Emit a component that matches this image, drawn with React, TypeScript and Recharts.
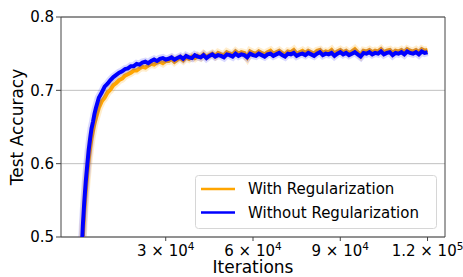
import React from 'react';
import { ComposedChart, Line, XAxis, YAxis, CartesianGrid, Legend, ReferenceArea, Label } from 'recharts';

const iterations = [
  1000, 1500, 2000, 2500, 3000, 3500, 4000, 4500, 5000, 5500, 6000,
  7000, 8000, 9000, 10000, 11000, 12000, 13000, 14000, 15000, 16000, 17000, 18000, 19000, 20000,
  21000, 22000, 23000, 24000, 25000, 26000, 27000, 28000, 29000, 30000,
  31000, 32000, 33000, 34000, 35000, 36000, 37000, 38000, 39000, 40000,
  41000, 42000, 43000, 44000, 45000, 46000, 47000, 48000, 49000, 50000,
  51000, 52000, 53000, 54000, 55000, 56000, 57000, 58000, 59000, 60000,
  61000, 62000, 63000, 64000, 65000, 66000, 67000, 68000, 69000, 70000,
  71000, 72000, 73000, 74000, 75000, 76000, 77000, 78000, 79000, 80000,
  81000, 82000, 83000, 84000, 85000, 86000, 87000, 88000, 89000, 90000,
  91000, 92000, 93000, 94000, 95000, 96000, 97000, 98000, 99000, 100000,
  101000, 102000, 103000, 104000, 105000, 106000, 107000, 108000, 109000, 110000,
  111000, 112000, 113000, 114000, 115000, 116000, 117000, 118000, 119000, 120000,
];

const withRegularization = [
  0.455, 0.500, 0.535, 0.562, 0.585, 0.605, 0.621, 0.635, 0.645, 0.655, 0.662,
  0.676, 0.685, 0.690, 0.697, 0.701, 0.707, 0.710, 0.714, 0.716, 0.720, 0.722, 0.724, 0.727, 0.727,
  0.730, 0.732, 0.731, 0.734, 0.736, 0.735, 0.738, 0.739, 0.737, 0.740,
  0.740, 0.743, 0.739, 0.742, 0.744, 0.741, 0.745, 0.743, 0.746, 0.744,
  0.747, 0.745, 0.749, 0.746, 0.748, 0.750, 0.747, 0.751, 0.749, 0.748,
  0.752, 0.750, 0.749, 0.753, 0.750, 0.752, 0.751, 0.745, 0.753, 0.751,
  0.750, 0.753, 0.751, 0.749, 0.752, 0.754, 0.750, 0.752, 0.754, 0.751,
  0.749, 0.753, 0.752, 0.755, 0.750, 0.752, 0.754, 0.751, 0.754, 0.752,
  0.750, 0.754, 0.755, 0.751, 0.753, 0.752, 0.755, 0.750, 0.753, 0.755,
  0.752, 0.754, 0.751, 0.753, 0.756, 0.752, 0.748, 0.754, 0.753, 0.755,
  0.752, 0.754, 0.753, 0.756, 0.752, 0.754, 0.755, 0.751, 0.754, 0.753,
  0.755, 0.752, 0.756, 0.754, 0.753, 0.755, 0.752, 0.756, 0.754, 0.755,
];

const withoutRegularization = [
  0.470, 0.515, 0.548, 0.575, 0.597, 0.618, 0.634, 0.648, 0.657, 0.668, 0.676,
  0.690, 0.697, 0.705, 0.709, 0.714, 0.718, 0.721, 0.724, 0.726, 0.729, 0.730, 0.733, 0.733, 0.736,
  0.735, 0.738, 0.739, 0.737, 0.740, 0.742, 0.740, 0.743, 0.744, 0.742,
  0.743, 0.745, 0.742, 0.744, 0.746, 0.743, 0.747, 0.745, 0.744, 0.748,
  0.746, 0.745, 0.748, 0.744, 0.747, 0.749, 0.746, 0.748, 0.747, 0.745,
  0.749, 0.748, 0.746, 0.750, 0.747, 0.749, 0.748, 0.745, 0.750, 0.748,
  0.747, 0.750, 0.748, 0.746, 0.749, 0.750, 0.747, 0.749, 0.751, 0.748,
  0.746, 0.750, 0.749, 0.751, 0.747, 0.749, 0.750, 0.748, 0.751, 0.749,
  0.747, 0.750, 0.752, 0.748, 0.750, 0.749, 0.751, 0.747, 0.750, 0.752,
  0.749, 0.751, 0.748, 0.750, 0.752, 0.749, 0.746, 0.751, 0.750, 0.752,
  0.749, 0.751, 0.750, 0.753, 0.749, 0.751, 0.752, 0.748, 0.751, 0.750,
  0.752, 0.749, 0.753, 0.751, 0.750, 0.752, 0.749, 0.753, 0.751, 0.752,
];

const xTicks = [30000, 60000, 90000, 120000];
const xTickMantissa = ['3', '6', '9', '1.2'];
const xTickExponent = ['4', '4', '4', '5'];
const yTicks = [0.5, 0.6, 0.7, 0.8];

const data = iterations.map((it, i) => ({
  it,
  withReg: withRegularization[i],
  withoutReg: withoutRegularization[i],
}));

const FONT = '"DejaVu Sans", sans-serif';

const XTick = (props: any) => {
  const { x, y, payload } = props;
  const idx = xTicks.indexOf(payload.value);
  return (
    <text x={x} y={y + 13} textAnchor="middle" fontFamily={FONT} fontSize={15} fill="#000">
      <tspan>{xTickMantissa[idx]} × 10</tspan>
      <tspan dy={-6} fontSize={10.5}>{xTickExponent[idx]}</tspan>
    </text>
  );
};

const LegendContent = (props: any) => {
  const payload = (props.payload || []).filter((p: any) => p.value && !String(p.value).startsWith('band'));
  return (
    <svg width={242} height={54} style={{ display: 'block' }}>
      <rect x={0.5} y={0.5} width={241} height={53} rx={3} fill="#fff" fillOpacity={0.8} stroke="#d6d6d6" />
      {payload.map((p: any, i: number) => (
        <g key={i}>
          <line x1={6} x2={40} y1={14 + i * 23.5} y2={14 + i * 23.5} stroke={p.color} strokeWidth={2.5} />
          <text x={53} y={14 + i * 23.5} dominantBaseline="central" fontFamily={FONT} fontSize={15} fill="#000">
            {p.value}
          </text>
        </g>
      ))}
    </svg>
  );
};

export default function App() {
  return (
    <div style={{ position: 'absolute', left: 0, top: 0 }}>
      <ComposedChart width={463} height={277} data={data} margin={{ top: 17, right: 18, left: 0, bottom: 0 }}>
        <CartesianGrid horizontal vertical={false} stroke="#c0c0c0" strokeWidth={1} />
        <XAxis
          dataKey="it"
          type="number"
          domain={[-6000, 126000]}
          ticks={xTicks}
          allowDataOverflow
          height={40}
          tick={<XTick />}
          tickSize={4}
          tickMargin={2}
          tickLine={{ stroke: '#444' }}
          axisLine={false}
        >
          <Label
            content={({ viewBox }: any) => (
              <text x={viewBox.x + viewBox.width / 2} y={273} textAnchor="middle" fontFamily={FONT} fontSize={17} fill="#000">
                Iterations
              </text>
            )}
          />
        </XAxis>
        <YAxis
          type="number"
          domain={[0.5, 0.8]}
          ticks={yTicks}
          allowDataOverflow
          width={61}
          tickSize={5}
          tickMargin={2}
          tickLine={{ stroke: '#444' }}
          axisLine={false}
          tickFormatter={(v: number) => v.toFixed(1)}
          tick={{ fontFamily: FONT, fontSize: 15, fill: '#000' }}
        >
          <Label
            content={({ viewBox }: any) => {
              const cx = 17;
              const cy = viewBox.y + viewBox.height / 2;
              return (
                <text x={cx} y={cy} transform={`rotate(-90 ${cx} ${cy})`} textAnchor="middle" dominantBaseline="central" fontFamily={FONT} fontSize={17} fill="#000">
                  Test Accuracy
                </text>
              );
            }}
          />
        </YAxis>
        <Line dataKey="withReg" name="band1" stroke="#FFA500" strokeOpacity={0.2} strokeWidth={8} dot={false} isAnimationActive={false} legendType="none" />
        <Line dataKey="withReg" name="With Regularization" stroke="#FFA500" strokeWidth={4} dot={false} isAnimationActive={false} />
        <Line dataKey="withoutReg" name="band2" stroke="#0000FF" strokeOpacity={0.15} strokeWidth={8} dot={false} isAnimationActive={false} legendType="none" />
        <Line dataKey="withoutReg" name="Without Regularization" stroke="#0000FF" strokeWidth={4} dot={false} isAnimationActive={false} />
        <ReferenceArea x1={-6000} x2={126000} y1={0.5} y2={0.8} fill="none" stroke="#444" strokeWidth={1} ifOverflow="extendDomain" />
        <Legend
          layout="vertical"
          align="center"
          verticalAlign="middle"
          content={<LegendContent />}
          wrapperStyle={{ position: 'absolute', left: 195, top: 175, width: 242, height: 54 }}
        />
      </ComposedChart>
    </div>
  );
}
